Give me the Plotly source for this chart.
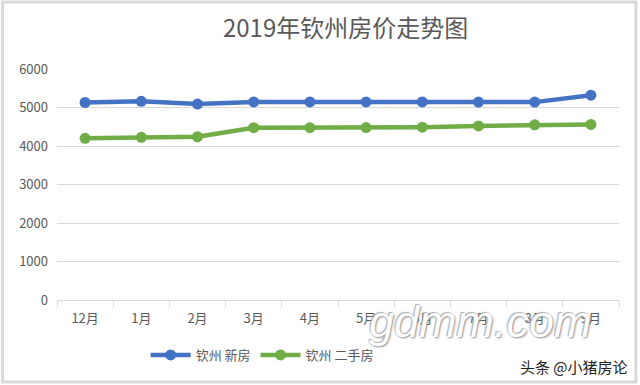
import plotly.graph_objects as go

months = ["12月", "1月", "2月", "3月", "4月", "5月", "6月", "7月", "8月", "9月"]
new_house = [5130, 5160, 5090, 5145, 5145, 5145, 5145, 5140, 5140, 5320]
second_hand = [4200, 4225, 4240, 4475, 4475, 4480, 4490, 4520, 4550, 4560]
y_ticks = [0, 1000, 2000, 3000, 4000, 5000, 6000]

FONT = "Noto Sans CJK SC, Open Sans, sans-serif"
GRAY = "#595959"

fig = go.Figure()
fig.add_trace(go.Scatter(x=months, y=new_house, name="钦州 新房", mode="lines+markers",
                         line=dict(color="#4472C4", width=4.5),
                         marker=dict(size=11, color="#4472C4")))
fig.add_trace(go.Scatter(x=months, y=second_hand, name="钦州 二手房", mode="lines+markers",
                         line=dict(color="#70AD47", width=4.5),
                         marker=dict(size=11, color="#70AD47")))

fig.update_layout(
    width=640, height=385,
    paper_bgcolor="white", plot_bgcolor="white",
    margin=dict(l=57, r=21, t=69, b=85, autoexpand=False),
    font=dict(family=FONT, color=GRAY, size=13),
    title=dict(text="2019年钦州房价走势图", x=0.54, xanchor="center", y=0.925, yanchor="middle",
               font=dict(size=24, color=GRAY, family=FONT)),
    xaxis=dict(type="category", range=[-0.5, len(months) - 0.5], tickson="boundaries",
               ticks="outside", ticklen=6, ticklabelstandoff=6,
               tickcolor="#d9d9d9", showline=True, linecolor="#d9d9d9", linewidth=1,
               showgrid=False, tickfont=dict(size=13, color=GRAY), automargin=False),
    yaxis=dict(range=[0, 6000], tickvals=y_ticks, showgrid=True, gridcolor="#d9d9d9",
               zeroline=False, showline=False, tickfont=dict(size=13, color=GRAY),
               ticklabelstandoff=8, automargin=False),
    legend=dict(orientation="h", x=0.365, xanchor="center", y=-0.238, yanchor="middle",
                font=dict(size=13, color=GRAY), itemwidth=40),
    showlegend=True,
)

fig.add_shape(type="rect", xref="paper", yref="paper", x0=-0.097, x1=1.03, y0=-0.355, y1=1.29,
              line=dict(color="#d9d9d9", width=3), layer="below")

fig.add_annotation(text="gdmm.com", xref="paper", yref="paper", x=0.753, y=-0.095,
                   xanchor="center", yanchor="middle",
                   showarrow=False, font=dict(size=45, color="white", family="Liberation Sans",
                                              style="italic",
                                              shadow="1px 1px 2px #888, -1px -1px 1px #aaa"),
                   opacity=0.95)
fig.add_annotation(text="头条 @小猪房论", xref="paper", yref="paper", x=1.02, y=-0.29,
                   xanchor="right", yanchor="middle", showarrow=False,
                   font=dict(size=15, color="#222", family=FONT))

fig.write_html("out.html", config={"displayModeBar": False},
               post_script="document.body.style.margin='0';")
